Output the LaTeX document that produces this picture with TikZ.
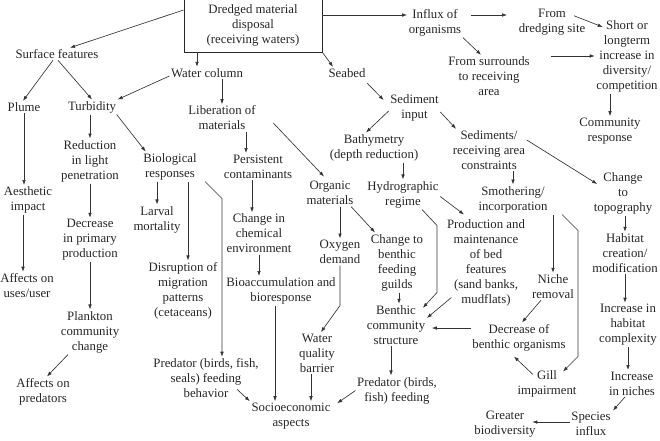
\documentclass[tikz,border=0pt]{standalone}
\usepackage{fontspec}
\setmainfont{Liberation Serif}
\usepackage{tikz}
\usetikzlibrary{positioning, arrows.meta}

\begin{document}
\begin{tikzpicture}[
        x=1pt, y=-1pt,
        lbl/.style={align=center, inner sep=1.5pt, text=black!85, font=\fontsize{12.8}{15}\selectfont},
        box/.style={lbl, draw=black!85, rectangle, line width=0.9pt, minimum width=138pt, minimum height=54pt},
        arrow/.style={-{Latex[length=5pt, width=3.6pt]}, draw=black!80, line width=0.65pt}
    ]
        \useasboundingbox (0,0) rectangle (660,440);

        % Nodes
        \node[box] (domain) at (253,25) {Dredged material \\ disposal \\ (receiving waters)};
        \node[lbl] (surface) at (57,54) {Surface features};
        \node[lbl] (watercol) at (207,73) {Water column};
        \node[lbl] (seabed) at (347,73) {Seabed};
        \node[lbl] (influx) at (435,22.5) {Influx of \\ organisms};
        \node[lbl] (fromsite) at (552,22.5) {From \\ dredging site};
        \node[lbl] (fromsurr) at (489,76) {From surrounds \\ to receiving \\ area};
        \node[lbl] (increase) at (627,56.5) {Short or \\ longterm \\ increase in \\ diversity/ \\ competition};
        \node[lbl] (community) at (610,131) {Community \\ response};

        \node[lbl] (plume) at (24,107) {Plume};
        \node[lbl] (turbidity) at (92,107) {Turbidity};
        \node[lbl] (liberation) at (222,118) {Liberation of \\ materials};
        \node[lbl] (sediment) at (414.5,108) {Sediment \\ input};
        \node[lbl] (reduction) at (90,161) {Reduction \\ in light \\ penetration};
        \node[lbl] (bioresp) at (170,166.5) {Biological \\ responses};
        \node[lbl] (persistent) at (258,166.5) {Persistent \\ contaminants};
        \node[lbl] (bathy) at (374,147.5) {Bathymetry \\ (depth reduction)};
        \node[lbl] (sedconstr) at (489,150) {Sediments/ \\ receiving area \\ constraints};

        \node[lbl] (aesthetic) at (28,200) {Aesthetic \\ impact};
        \node[lbl] (organic) at (330,193) {Organic \\ materials};
        \node[lbl] (hydro) at (403,194.5) {Hydrographic \\ regime};
        \node[lbl] (smother) at (513,199.5) {Smothering/ \\ incorporation};
        \node[lbl] (topo) at (623,193) {Change \\ to \\ topography};
        \node[lbl] (larval) at (157,219.5) {Larval \\ mortality};
        \node[lbl] (changechem) at (259,233.5) {Change in \\ chemical \\ environment};
        \node[lbl] (decrease) at (90,240) {Decrease \\ in primary \\ production};
        \node[lbl] (oxygen) at (340,252) {Oxygen \\ demand};
        \node[lbl] (guilds) at (397,262.5) {Change to \\ benthic \\ feeding \\ guilds};
        \node[lbl] (production) at (486,262.5) {Production and \\ maintenance \\ of bed \\ features \\ (sand banks, \\ mudflats)};
        \node[lbl] (habitat) at (625,253) {Habitat \\ creation/ \\ modification};
        \node[lbl] (niche) at (553,286.5) {Niche \\ removal};

        \node[lbl] (affectsuse) at (27,285.5) {Affects on \\ uses/user};
        \node[lbl] (disruption) at (183,290.5) {Disruption of \\ migration \\ patterns \\ (cetaceans)};
        \node[lbl] (bioaccum) at (281,291) {Bioaccumulation and \\ bioresponse};
        \node[lbl] (benthic) at (396,325) {Benthic \\ community \\ structure};
        \node[lbl] (decbenthic) at (519,337.5) {Decrease of \\ benthic organisms};
        \node[lbl] (habcomplex) at (628,325) {Increase in \\ habitat \\ complexity};
        \node[lbl] (plankton) at (90,332) {Plankton \\ community \\ change};
        \node[lbl] (water) at (317,353) {Water \\ quality \\ barrier};
        \node[lbl] (predator1) at (206,378) {Predator (birds, fish, \\ seals) feeding \\ behavior};
        \node[lbl] (gill) at (547,383.5) {Gill \\ impairment};
        \node[lbl] (predator2) at (397,390.5) {Predator (birds, \\ fish) feeding};
        \node[lbl] (niches) at (632,383.5) {Increase \\ in niches};
        \node[lbl] (affectspred) at (43,391.5) {Affects on \\ predators};
        \node[lbl] (socio) at (291,416) {Socioeconomic \\ aspects};
        \node[lbl] (species) at (591,424) {Species \\ influx};
        \node[lbl] (greater) at (505,424) {Greater \\ biodiversity};

        % Arrows
        \draw[arrow] ([yshift=15]domain.west) -- ([xshift=13]surface.north);
        \draw[arrow] ([xshift=-56]domain.south) -- ([xshift=-10]watercol.north);
        \draw[arrow] (domain.south east) -- ([xshift=-14]seabed.north);
        \draw[arrow] ([yshift=10]domain.east) -- ([yshift=7.5]influx.west);
        \draw[arrow] ([xshift=8,yshift=7.5]influx.east) -- ([xshift=-10,yshift=7.5]fromsite.west);
        \draw[arrow] (influx.south east) -- ([xshift=-8]fromsurr.north);
        \draw[arrow] ([xshift=-13,yshift=-8]fromsite.north east) -- ([xshift=8,yshift=-8]increase.north west);
        \draw[arrow] ([xshift=19.5,yshift=20]fromsurr.east) -- ([yshift=0.5]increase.west);
        \draw[arrow] (increase.south -| community) -- (community.north);

        \draw[arrow] ([xshift=-4]surface.south) -- ([xshift=-1]plume.north);
        \draw[arrow] ([xshift=1]surface.south) -- (turbidity.north);
        \draw[arrow] ([yshift=-3]watercol.west) -- (turbidity.north east);
        \draw[arrow] (watercol.south -| liberation) -- (liberation.north);
        \draw[arrow] (plume.south) -- (plume.south |- aesthetic.north);
        \draw[arrow] ([xshift=-5]aesthetic.south) -- ([xshift=-5]aesthetic.south |- affectsuse.north);
        \draw[arrow] (turbidity.south -| reduction) -- (reduction.north);
        \draw[arrow] ([xshift=-1]turbidity.south east) -- ([xshift=4]bioresp.north west);
        \draw[arrow] ([xshift=24]liberation.south) -- ([xshift=-12]persistent.north);
        \draw[arrow] ([xshift=16,yshift=-5]liberation.east) -- ([xshift=-6,yshift=3]organic.north);
        \draw[arrow] (reduction.south) -- (reduction.south |- decrease.north);
        \draw[arrow] (decrease.south) -- (decrease.south |- plankton.north);
        \draw[arrow] ([xshift=-22]plankton.south) -- ([xshift=4]affectspred.north);

        \draw[arrow] (bioresp.south -| larval) -- (larval.north);
        \draw[arrow] ([xshift=18]bioresp.south) -- ([xshift=5]disruption.north);
        \draw[arrow] ([xshift=35]bioresp.south) -- ++(17,17) -- ([xshift=16]predator1.north);
        \draw[arrow] ([xshift=-6]persistent.south) -- ([xshift=-7]changechem.north);
        \draw[arrow] (changechem.south) -- (changechem.south |- bioaccum.north);
        \draw[arrow] ([xshift=-6]bioaccum.south) -- ([xshift=-16]socio.north);
        \draw[arrow] (organic.south -| oxygen) -- (oxygen.north);
        \draw[arrow] ([xshift=21]organic.south) -- ([xshift=-22]guilds.north);
        \draw[arrow] (oxygen.south) -- ++(0,40) -- ([xshift=4]water.north);
        \draw[arrow] ([xshift=-6]water.south) -- ([xshift=20]socio.north);
        \draw[arrow] ([xshift=31,yshift=10]predator1.south) -- (socio.north west);
        \draw[arrow] (predator2.west) -- ([xshift=5,yshift=-2]socio.north east);

        \draw[arrow] ([yshift=-4]seabed.south east) -- ([xshift=-5,yshift=-7]sediment.north west);
        \draw[arrow] ([yshift=-3]sediment.west) -- ([xshift=-8]bathy.north);
        \draw[arrow] ([yshift=-4]sediment.east) -- ([xshift=-33]sedconstr.north);
        \draw[arrow] (bathy.south -| hydro) -- (hydro.north);
        \draw[arrow] ([yshift=-2]hydro.east) -- ([xshift=-22,yshift=3]production.north);
        \draw[arrow] ([xshift=19]hydro.south) -- ++(15,16) -- ++(0,67) -- ([xshift=-4,yshift=-4]benthic.north east);
        \draw[arrow] ([xshift=2]guilds.south) -- ([xshift=3]benthic.north);
        \draw[arrow] ([xshift=6,yshift=10]production.south west) -- ([yshift=7]benthic.east);
        \draw[arrow] ([yshift=9.5]decbenthic.west) -- ([xshift=5,yshift=-3]benthic.east);
        \draw[arrow] ([xshift=-5]benthic.south) -- ([xshift=-6]predator2.north);

        \draw[arrow] (sedconstr.south -| smother) -- (smother.north);
        \draw[arrow] ([yshift=10]sedconstr.east) -- ([xshift=5,yshift=9]topo.west);
        \draw[arrow] (smother.south -| niche) -- (niche.north);
        \draw[arrow] ([xshift=49]smother.south) -- ++(16,16) -- ++(0,126) -- ([xshift=16,yshift=-3]gill.north);
        \draw[arrow] ([xshift=-12]niche.south) -- ([xshift=3]decbenthic.north);
        \draw[arrow] ([xshift=-14,yshift=-6]gill.north) -- ([xshift=-5,yshift=-4]decbenthic.south);
        \draw[arrow] (topo.south -| habitat) -- (habitat.north);
        \draw[arrow] (habitat.south) -- (habitat.south |- habcomplex.north);
        \draw[arrow] (habcomplex.south) -- (habcomplex.south |- niches.north);
        \draw[arrow] ([xshift=-7]niches.south) -- ([xshift=22]species.north);
        \draw[arrow] ([yshift=2]species.west) -- ([xshift=-5,yshift=2]greater.east);
    \end{tikzpicture}
\end{document}
